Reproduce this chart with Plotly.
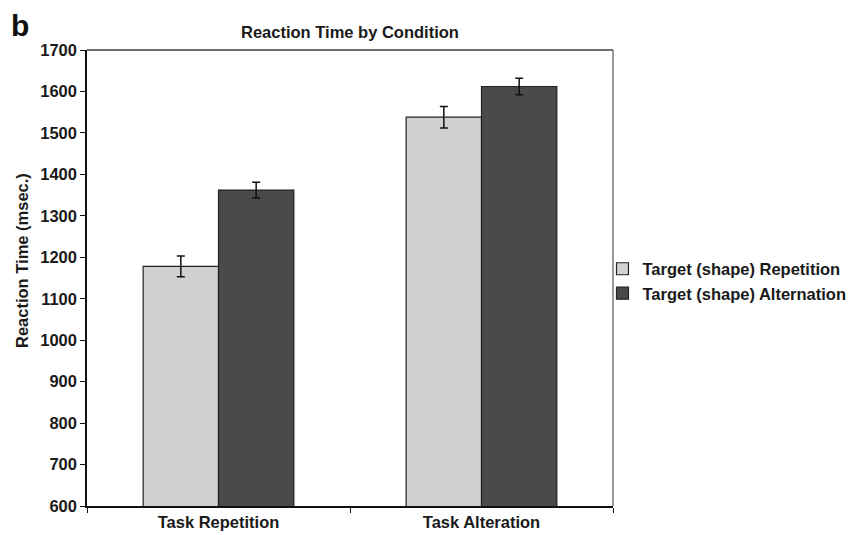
import plotly.graph_objects as go

categories = ["Task Repetition", "Task Alteration"]
series_names = ["Target (shape) Repetition", "Target (shape) Alternation"]
rep_values = [1178, 1538]
rep_errors = [25, 26]
alt_values = [1362, 1612]
alt_errors = [19, 20]
y_ticks = [600, 700, 800, 900, 1000, 1100, 1200, 1300, 1400, 1500, 1600, 1700]

FONT = "Liberation Sans"
fs = 16.5
TXT = "#1a1a1a"

fig = go.Figure()
fig.add_trace(go.Bar(
    x=categories, y=rep_values, name=series_names[0],
    marker=dict(color="#d0d1d0", line=dict(color="#222222", width=1.2)),
    error_y=dict(type="data", array=rep_errors, color="#111111", thickness=1.5, width=4),
))
fig.add_trace(go.Bar(
    x=categories, y=alt_values, name=series_names[1],
    marker=dict(color="#4a4a4a", line=dict(color="#222222", width=1.2)),
    error_y=dict(type="data", array=alt_errors, color="#111111", thickness=1.5, width=4),
))

# page body has an 8px default margin, so the figure is 8px smaller in each direction
fig.update_layout(
    width=854, height=527,
    margin=dict(l=79, r=249, t=42, b=29, autoexpand=False),
    paper_bgcolor="white", plot_bgcolor="white",
    barmode="group", bargap=0.427, bargroupgap=0,
    font=dict(family=FONT, size=fs, color=TXT, weight="bold"),
    legend=dict(x=0.98, xanchor="left", y=(506 - 281) / 456, yanchor="middle",
                font=dict(family=FONT, size=fs, weight="bold", color=TXT),
                bgcolor="rgba(0,0,0,0)", tracegroupgap=0, itemwidth=30),
    showlegend=True,
)
fig.update_xaxes(
    showline=True, linecolor="#111111", linewidth=1.5,
    ticks="outside", ticklen=5, tickcolor="#111111", tickwidth=1.2,
    tickson="boundaries", showgrid=False,
    tickfont=dict(family=FONT, size=fs, weight="bold", color=TXT),
)
fig.update_yaxes(
    range=[600, 1700], tickvals=y_ticks, showline=True, linecolor="#111111", linewidth=1.5,
    ticks="outside", ticklen=5, tickcolor="#111111", tickwidth=1.2, showgrid=False,
    zeroline=False,
    tickfont=dict(family=FONT, size=fs, weight="bold", color=TXT),
)
# top and right frame lines
fig.add_shape(type="line", xref="paper", yref="paper", x0=0, x1=1, y0=1, y1=1,
              line=dict(color="#6e6e6e", width=2))
fig.add_shape(type="line", xref="paper", yref="paper", x0=1, x1=1, y0=0, y1=1,
              line=dict(color="#555555", width=1.2))
# chart title
fig.add_annotation(text="Reaction Time by Condition", xref="paper", yref="paper",
                   x=0.5, y=(506 - 32) / 456, xanchor="center", yanchor="middle",
                   showarrow=False, font=dict(family=FONT, size=fs, weight="bold", color=TXT))
# y axis title
fig.add_annotation(text="Reaction Time (msec.)", textangle=-90, xref="paper", yref="paper",
                   x=-(87 - 22) / 526, y=(506 - 261) / 456, xanchor="center", yanchor="middle",
                   showarrow=False, font=dict(family=FONT, size=fs, weight="bold", color=TXT))
# panel label
fig.add_annotation(text="b", xref="paper", yref="paper", x=-(87 - 10) / 526, y=(506 - 8) / 456,
                   xanchor="left", yanchor="top", showarrow=False, borderpad=0,
                   font=dict(family=FONT, size=30, weight="bold", color="#111111"))

fig.write_html("out.html")
